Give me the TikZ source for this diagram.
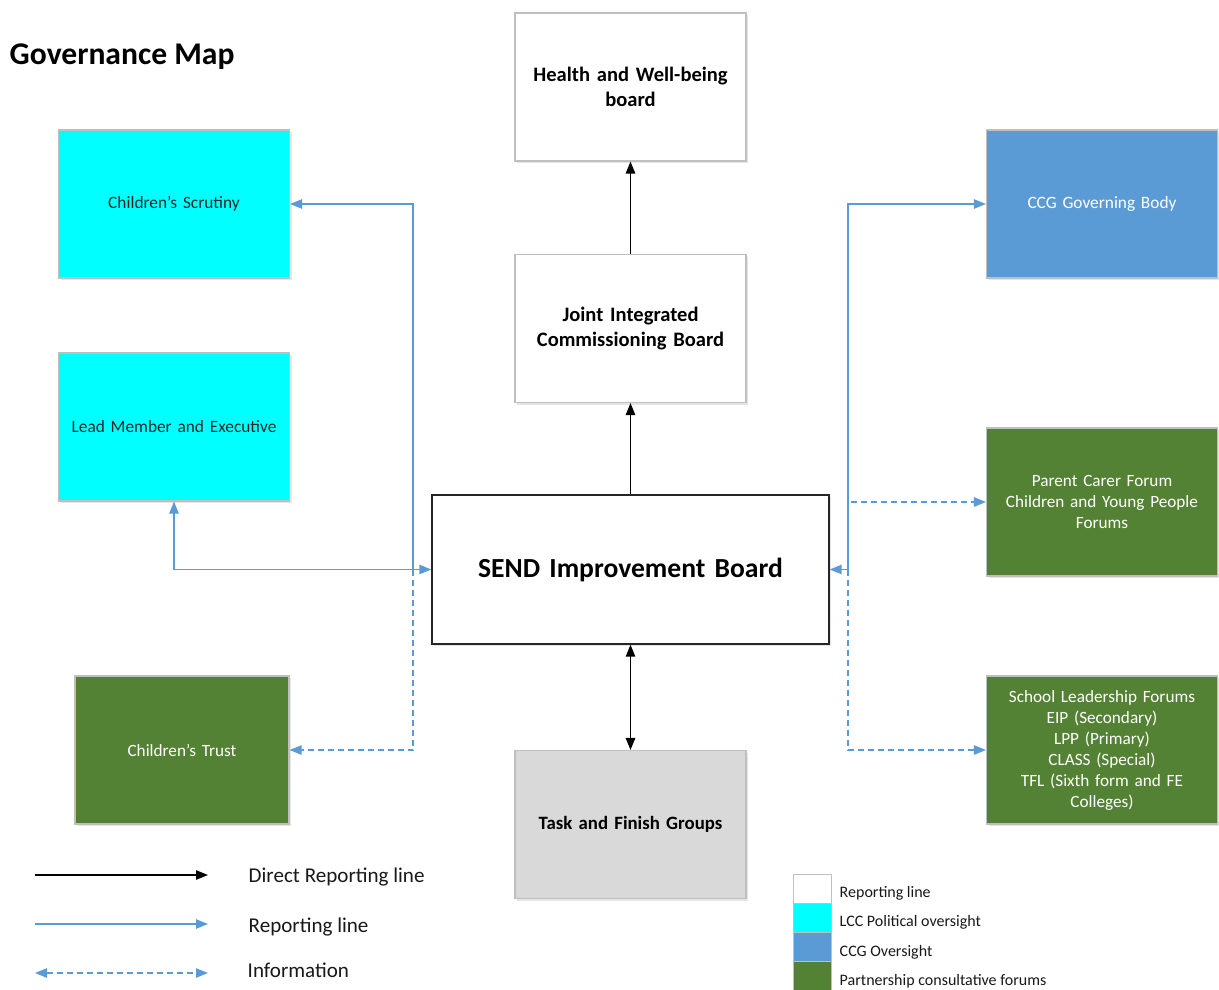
\documentclass[tikz,border=0pt]{standalone}
\usepackage{fontspec}
\setmainfont{Carlito}
\usetikzlibrary{arrows.meta,shadows}
\definecolor{cyanbox}{HTML}{00FFFF}
\definecolor{bluebox}{HTML}{5B9BD5}
\definecolor{greenbox}{HTML}{548235}
\definecolor{greybox}{HTML}{D9D9D9}
\definecolor{edgegrey}{HTML}{BFBFBF}
\definecolor{linkblue}{HTML}{5B9BD5}
\tikzset{
  box/.style={draw=edgegrey, line width=0.8pt, minimum width=173.25pt, minimum height=111pt,
    align=center, inner sep=2pt, text width=168pt,
    drop shadow={shadow xshift=1.5pt, shadow yshift=-1.5pt, fill=black!25, opacity=0.4}},
  whitebox/.style={box, fill=white, font=\fontsize{15.4}{18.5}\selectfont\bfseries},
  cyanb/.style={box, fill=cyanbox, text=black!85, font=\fontsize{13}{15.75}\selectfont},
  blueb/.style={box, fill=bluebox, text=white, font=\fontsize{13}{15.75}\selectfont},
  greenb/.style={box, fill=greenbox, text=white, font=\fontsize{12.9}{15.75}\selectfont},
  direct/.style={draw=black, line width=1.2pt, -{Triangle[length=9pt,width=7pt]}},
  report/.style={draw=linkblue, line width=1.1pt, -{Triangle[length=9pt,width=7pt]}},
  info/.style={draw=linkblue, line width=1.1pt, dash pattern=on 4.5pt off 3pt, -{Triangle[length=9pt,width=7pt]}},
  legtext/.style={anchor=west, font=\fontsize{15.8}{18}\selectfont, text=black!90},
  swatch/.style={draw=edgegrey, line width=0.6pt, minimum width=28.5pt, minimum height=21.75pt, inner sep=0pt},
  swtext/.style={anchor=west, font=\fontsize{12}{14}\selectfont, text=black!90},
}
\begin{document}
\begin{tikzpicture}[x=0.75pt,y=-0.75pt]
\useasboundingbox (0,0) rectangle (1219,989);
\fill[white] (0,0) rectangle (1219,989);

\node[anchor=west, font=\fontsize{23.7}{27}\selectfont\bfseries] (title) at (5,57) {Governance Map};

% centre column
\node[whitebox] (hwb) at (630.5,87) {Health and Well-being\\board};
\node[whitebox] (jicb) at (630.5,328.5) {Joint Integrated\\Commissioning Board};
\node[box, fill=white, draw=black!85, line width=1pt, minimum width=297.75pt, minimum height=111.75pt, text width=290pt,
      font=\fontsize{20.7}{24}\selectfont\bfseries] (send) at (630.5,569.5) {SEND Improvement Board};
\node[whitebox, fill=greybox, font=\fontsize{14.1}{17}\selectfont\bfseries] (task) at (630.5,824.5) {Task and Finish Groups};

% left column
\node[cyanb] (scrut) at (174,204) {Children’s Scrutiny};
\node[cyanb] (lead) at (174,427) {Lead Member and Executive};
\node[greenb, minimum width=160.5pt, text width=155pt] (trust) at (182,750) {Children’s Trust};

% right column
\node[blueb] (ccg) at (1102,204) {CCG Governing Body};
\node[greenb] (parent) at (1102,502) {Parent Carer Forum\\Children and Young People\\Forums};
\node[greenb] (school) at (1102,750) {School Leadership Forums\\EIP (Secondary)\\LPP (Primary)\\CLASS (Special)\\TFL (Sixth form and FE\\Colleges)};

% direct reporting lines
\draw[direct] (jicb.north) -- (hwb.south);
\draw[direct] (send.north) -- (jicb.south);
\draw[direct, {Triangle[length=9pt,width=7pt]}-{Triangle[length=9pt,width=7pt]}] (send.south) -- (task.north);

% left side connectors
\coordinate (L) at (413,569.5);
\draw[info] (L) |- (trust.east);
\draw[report] (L) |- (scrut.east);
\draw[report, {Triangle[length=9pt,width=7pt]}-{Triangle[length=9pt,width=7pt]}] (lead.south) |- (send.west);

% right side connectors
\coordinate (R) at (848,569.5);
\draw[info] (R) |- (parent.west);
\draw[info] (R) |- (school.west);
\draw[report] (R) |- (ccg.west);
\draw[report] (R) -- (send.east);

% line legend
\coordinate (a1) at (35,875); \coordinate (a2) at (208,875);
\coordinate (b1) at (35,924); \coordinate (b2) at (208,924);
\coordinate (c1) at (35,973); \coordinate (c2) at (208,973);
\draw[direct] (a1) -- (a2);
\draw[report] (b1) -- (b2);
\draw[info, {Triangle[length=9pt,width=7pt]}-{Triangle[length=9pt,width=7pt]}] (c1) -- (c2);
\node[legtext] (ta) at (244,877) {Direct Reporting line};
\node[legtext] (tb) at (244,927) {Reporting line};
\node[legtext] (tc) at (243,970) {Information};

% colour legend
\node[swatch, fill=white] (s1) at (812,888.5) {};
\node[swatch, fill=cyanbox] (s2) at (812,917.5) {};
\node[swatch, fill=bluebox] (s3) at (812,946.5) {};
\node[swatch, fill=greenbox] (s4) at (812,975.5) {};
\node[swtext] (st1) at (835,893) {Reporting line};
\node[swtext] (st2) at (835,922) {LCC Political oversight};
\node[swtext] (st3) at (835,952) {CCG Oversight};
\node[swtext] (st4) at (835,981) {Partnership consultative forums};
\end{tikzpicture}
\end{document}
